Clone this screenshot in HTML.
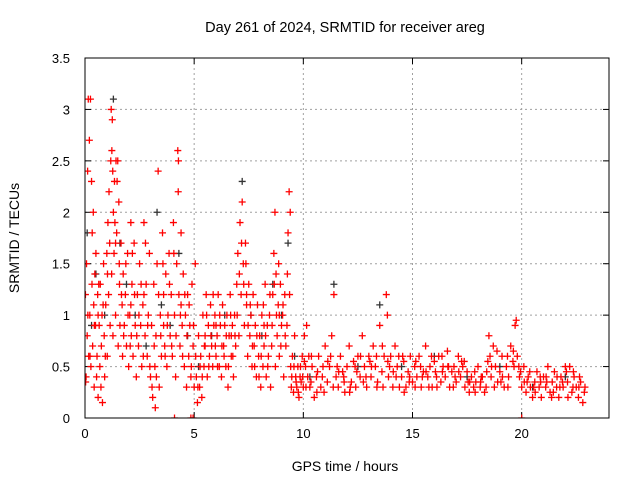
<!DOCTYPE html>
<html><head><meta charset="utf-8"><style>
html,body{margin:0;padding:0;background:#fff;}
svg{display:block;font-family:"Liberation Sans",sans-serif;}
</style></head><body>
<svg id="chart" width="640" height="480">
<defs><clipPath id="pc"><rect x="85" y="58" width="524" height="360"/></clipPath></defs>
<text x="345" y="32" font-size="14.5" text-anchor="middle">Day 261 of 2024, SRMTID for receiver areg</text>
<text x="345" y="471" font-size="14" text-anchor="middle">GPS time / hours</text>
<text transform="translate(19,238) rotate(-90)" font-size="14" text-anchor="middle">SRMTID / TECUs</text>
<g id="grid"></g><g id="ticks"></g><g id="black" clip-path="url(#pc)"></g><g id="red" clip-path="url(#pc)"></g>
<rect x="85" y="58" width="524" height="360" fill="none" stroke="#000" stroke-width="1"/>
</svg>
<script>
const xTicks=[0,5,10,15,20];
const yTicks=[0,0.5,1,1.5,2,2.5,3,3.5];
const yTickLabels=["0","0.5","1","1.5","2","2.5","3","3.5"];
const redT=[0.02,0.05,0.07,0.1,0.12,0.15,0.17,0.2,0.22,0.25,0.27,0.3,0.32,0.35,0.38,0.4,0.42,0.45,0.48,0.5,0.55,0.58,0.6,0.65,0.68,0.7,0.75,0.78,0.8,0.85,0.88,0.9,0.95,1.0,1.02,1.05,1.08,1.1,1.15,1.18,1.2,1.22,1.25,1.28,1.3,1.33,1.35,1.4,1.42,1.45,1.5,1.52,1.55,1.58,1.6,1.65,1.7,1.72,1.75,1.8,1.85,1.9,1.95,2.0,2.05,2.1,2.12,2.15,2.2,2.25,2.3,2.35,2.4,2.45,2.5,2.55,2.6,2.65,2.7,2.75,2.8,2.85,2.9,2.95,3.0,3.05,3.1,3.15,3.2,3.22,3.25,3.3,3.35,3.4,3.45,3.5,3.55,3.6,3.65,3.7,3.75,3.8,3.85,3.9,3.95,4.0,4.05,4.1,4.15,4.2,4.25,4.28,4.3,4.35,4.4,4.45,4.5,4.55,4.6,4.65,4.7,4.75,4.8,4.85,4.9,4.95,5.0,5.05,5.1,5.15,5.2,5.25,5.3,5.35,5.4,5.45,5.5,5.55,5.6,5.65,5.7,5.75,5.8,5.85,5.9,5.95,6.0,6.05,6.1,6.15,6.2,6.25,6.3,6.35,6.4,6.45,6.5,6.55,6.6,6.65,6.7,6.75,6.8,6.85,6.9,6.95,7.0,7.05,7.1,7.15,7.2,7.25,7.3,7.35,7.4,7.45,7.5,7.55,7.6,7.65,7.7,7.75,7.8,7.85,7.9,7.95,8.0,8.05,8.1,8.15,8.2,8.25,8.3,8.35,8.4,8.45,8.5,8.55,8.6,8.65,8.7,8.72,8.75,8.8,8.85,8.9,8.95,9.0,9.05,9.1,9.15,9.2,9.25,9.3,9.35,9.4,9.42,9.45,9.5,9.55,9.6,9.65,9.7,9.75,9.8,9.85,9.9,9.95,10.0,10.05,10.1,10.15,10.2,10.25,10.3,10.4,10.5,10.6,10.7,10.8,10.9,11.0,11.1,11.2,11.3,11.4,11.5,11.6,11.7,11.8,11.9,12.0,12.1,12.2,12.3,12.4,12.5,12.6,12.7,12.8,12.9,13.0,13.1,13.2,13.3,13.4,13.5,13.6,13.7,13.8,13.85,13.9,14.0,14.1,14.2,14.3,14.4,14.5,14.6,14.7,14.8,14.9,15.0,15.1,15.2,15.3,15.4,15.5,15.6,15.7,15.8,15.9,16.0,16.1,16.2,16.3,16.4,16.5,16.6,16.7,16.8,16.9,17.0,17.1,17.2,17.3,17.4,17.5,17.6,17.7,17.8,17.9,18.0,18.1,18.2,18.3,18.4,18.5,18.55,18.6,18.7,18.8,18.9,19.0,19.1,19.2,19.3,19.4,19.5,19.6,19.7,19.75,19.8,19.9,20.0,20.1,20.2,20.3,20.4,20.5,20.6,20.7,20.8,20.9,21.0,21.1,21.2,21.3,21.4,21.5,21.6,21.7,21.8,21.9,22.0,22.1,22.2,22.3,22.4,22.5,22.6,22.7,22.8,22.9,4.1,4.85,4.95,20.0];
const redV=[1.2,0.4,1.5,0.8,2.4,3.1,0.6,2.7,1.0,3.1,0.5,2.3,1.3,0.7,2.0,1.1,0.3,1.4,0.9,1.6,0.6,1.2,0.2,0.9,0.5,1.3,0.7,1.0,0.15,1.5,0.8,0.4,1.1,1.6,0.6,1.9,1.2,2.2,0.9,2.5,3.0,1.4,2.9,0.8,2.0,1.6,2.3,1.0,2.5,1.8,2.5,0.7,2.1,1.3,0.9,1.7,1.1,0.6,1.4,0.9,1.2,0.7,1.6,0.5,1.0,1.9,0.8,1.3,0.6,1.7,0.9,0.4,1.2,0.7,1.5,0.9,0.5,1.1,1.9,0.8,1.3,0.6,1.0,1.6,0.4,0.9,0.2,1.3,0.5,0.1,0.8,1.5,2.4,0.3,1.0,0.6,1.8,1.2,0.7,1.4,0.5,1.0,1.6,0.8,1.2,0.6,1.9,1.0,0.4,1.5,2.6,2.5,1.2,0.7,1.8,0.9,1.4,0.5,1.0,0.3,1.2,0.6,0.9,0.4,1.3,0.7,0.3,1.5,0.4,0.15,0.8,0.3,0.6,0.2,1.0,0.5,0.8,1.2,0.4,0.9,0.6,1.1,0.7,0.5,0.9,1.0,0.6,0.8,1.2,0.5,0.9,0.4,1.1,0.7,0.9,0.5,1.0,0.3,0.8,1.2,0.6,0.9,0.4,1.0,0.7,1.3,1.6,0.8,1.9,1.2,2.1,1.5,0.9,1.7,1.1,0.6,1.3,0.8,1.0,0.5,1.2,0.7,0.9,0.4,1.1,0.6,0.8,0.3,1.0,0.5,0.7,1.3,0.4,0.9,0.6,1.0,0.3,0.7,1.2,1.6,2.0,0.5,1.4,0.8,1.1,0.6,1.3,0.9,1.0,0.4,1.2,0.7,0.9,1.8,2.2,2.0,0.5,0.3,0.6,0.25,0.8,0.4,0.3,0.5,0.2,0.4,0.35,0.6,0.3,0.8,0.5,0.9,0.4,0.6,0.3,0.5,0.2,0.4,0.6,0.3,0.5,0.7,0.35,0.5,0.8,1.2,0.4,0.3,0.6,0.45,0.25,0.5,0.7,0.35,0.55,0.3,0.6,0.4,0.8,0.5,0.3,0.6,0.4,0.7,0.5,0.35,0.9,0.45,0.6,1.2,1.0,0.4,0.6,0.3,0.7,0.5,0.3,0.4,0.55,0.3,0.45,0.6,0.35,0.5,0.4,0.6,0.3,0.45,0.7,0.4,0.5,0.3,0.55,0.4,0.6,0.35,0.5,0.4,0.65,0.3,0.45,0.5,0.35,0.6,0.4,0.5,0.3,0.45,0.25,0.4,0.3,0.35,0.5,0.3,0.4,0.25,0.45,0.8,0.6,0.4,0.7,0.5,0.35,0.45,0.6,0.3,0.5,0.4,0.7,0.55,0.9,0.95,0.6,0.4,0.3,0.5,0.25,0.4,0.3,0.2,0.35,0.45,0.3,0.2,0.4,0.3,0.5,0.25,0.35,0.45,0.3,0.2,0.4,0.3,0.5,0.35,0.5,0.25,0.4,0.3,0.2,0.35,0.15,0.3,0,0,0,0];
const redT2=[10.05,10.35,10.65,10.95,11.25,11.55,11.85,12.15,12.45,12.75,13.05,13.35,13.65,13.95,14.25,14.55,14.85,15.15,15.45,15.75,16.05,16.35,16.65,16.95,17.25,17.55,17.85,18.15,18.45,18.75,19.05,19.35,19.65,19.95,20.25,20.55,20.85,21.15,21.45,21.75,22.05,22.35,22.65,0.6,1.4,2.1,2.7,3.6,4.4,5.5,6.0,6.7,7.4,8.2,8.9];
const redV2=[0.55,0.35,0.45,0.25,0.6,0.5,0.4,0.3,0.45,0.35,0.55,0.6,0.3,0.5,0.4,0.6,0.35,0.55,0.4,0.3,0.45,0.6,0.5,0.4,0.55,0.35,0.45,0.4,0.55,0.3,0.35,0.6,0.5,0.45,0.35,0.3,0.4,0.35,0.25,0.3,0.45,0.3,0.4,1.0,1.7,1.1,1.2,0.9,1.1,0.7,0.9,0.8,1.2,0.9,1.0];
const redT3=[0.03,0.13,0.23,0.33,0.43,0.53,0.63,0.73,0.83,0.93,1.03,1.13,1.23,1.27,1.37,1.47,1.57,1.67,1.77,1.87,1.97,2.07,2.17,2.27,2.37,2.47,2.57,2.67,2.77,2.87,2.97,3.07,3.17,3.27,3.37,3.47,3.57,3.67,3.77,3.87,3.97,4.07,4.17,4.27,4.37,4.47,4.57,4.67,4.77,4.87,4.97,5.07,5.17,5.27,5.37,5.47,5.57,5.67,5.77,5.87,5.97,6.07,6.17,6.27,6.37,6.47,6.57,6.67,6.77,6.87,6.97,7.07,7.17,7.27,7.37,7.47,7.57,7.67,7.77,7.87,7.97,8.07,8.17,8.27,8.37,8.47,8.57,8.67,8.77,8.87,8.97,9.07,9.17,9.27,9.37,9.47,9.57,9.67,9.77,9.87,9.97,10.12,10.37,10.62,10.87,11.12,11.37,11.62,11.87,12.12,12.37,12.62,12.87,13.12,13.37,13.62,13.87,14.12,14.37,14.62,14.87,15.12,15.37,15.62,15.87,16.12,16.37,16.62,16.87,17.12,17.37,17.62,17.87,18.12,18.37,18.62,18.87,19.12,19.37,19.62,19.87,20.12,20.37,20.62,20.87,21.12,21.37,21.62,21.87,22.12,22.37,22.62,22.87];
const redV3=[0.35,1.0,0.6,1.8,0.9,0.4,1.3,0.3,1.1,0.6,1.4,1.7,2.6,2.4,1.9,2.3,1.5,1.2,0.8,1.5,1.0,0.7,1.6,1.2,0.8,1.0,1.3,0.6,1.7,0.9,0.5,0.3,0.7,0.4,1.2,0.8,1.5,0.6,0.9,1.3,0.7,1.6,0.8,2.2,1.0,0.6,1.2,0.8,1.1,0.5,0.9,0.6,0.3,0.5,0.4,0.7,1.0,0.5,0.8,1.2,0.7,0.5,1.0,0.7,0.6,0.8,0.5,1.0,0.6,0.8,1.0,1.4,1.7,1.3,1.5,0.9,1.1,0.7,0.5,0.8,0.4,0.6,1.1,0.8,0.5,1.2,0.9,1.3,1.0,1.5,0.7,1.1,0.8,1.4,1.2,0.4,0.5,0.35,0.25,0.5,0.4,0.3,0.6,0.25,0.4,0.55,0.3,0.45,0.35,0.25,0.5,0.6,0.4,0.5,0.3,0.7,0.55,0.45,0.6,0.25,0.4,0.3,0.5,0.45,0.6,0.3,0.45,0.5,0.3,0.45,0.55,0.35,0.25,0.35,0.3,0.5,0.65,0.4,0.3,0.65,0.5,0.35,0.45,0.25,0.35,0.4,0.2,0.4,0.35,0.2,0.45,0.3,0.25];
const blackT=[0.1,0.3,0.5,0.9,1.3,1.6,1.9,2.3,2.8,3.3,3.5,3.9,4.3,4.7,5.2,5.8,6.4,7.2,7.6,8.1,8.6,9.0,9.3,9.6,10.3,11.4,12.5,13.5,14.5,16.0,17.5,19.0,20.5,22.0];
const blackV=[1.8,0.9,1.4,1.0,3.1,1.7,1.3,1.0,0.7,2.0,1.1,0.9,1.6,0.8,0.5,0.8,1.0,2.3,1.0,0.8,1.3,1.0,1.7,0.6,0.4,1.3,0.5,1.1,0.5,0.6,0.4,0.5,0.3,0.4];
const X0=85,X1=609,Y0=418,Y1=58,XMAX=24,YMAX=3.5;
function sx(t){return X0+(X1-X0)*t/XMAX;}
function sy(v){return Y0-(Y0-Y1)*v/YMAX;}
const NS="http://www.w3.org/2000/svg";
function mk(tag,attrs,parent){const e=document.createElementNS(NS,tag);for(const k in attrs)e.setAttribute(k,attrs[k]);parent.appendChild(e);return e;}
const grid=document.getElementById('grid'),ticks=document.getElementById('ticks');
xTicks.forEach(t=>{const x=sx(t);
 if(t>0){const g=mk('line',{x1:x,x2:x,y1:Y1,y2:Y0,stroke:'#a0a0a0','stroke-dasharray':'2,3'},grid);
 
 }
 mk('line',{x1:x,x2:x,y1:Y0,y2:Y0-6,stroke:'#000'},ticks);
 mk('line',{x1:x,x2:x,y1:Y1,y2:Y1+6,stroke:'#000'},ticks);
 const l=mk('text',{x:x,y:Y0+20,'font-size':13,'text-anchor':'middle'},ticks);l.textContent=t;
 
 
});
yTicks.forEach((v,i)=>{const y=sy(v);
 if(v>0&&v<YMAX){const g=mk('line',{x1:X0,x2:X1,y1:y,y2:y,stroke:'#a0a0a0','stroke-dasharray':'2,3'},grid);
 
 }
 mk('line',{x1:X0,x2:X0+6,y1:y,y2:y,stroke:'#000'},ticks);
 mk('line',{x1:X1,x2:X1-6,y1:y,y2:y,stroke:'#000'},ticks);
 const l=mk('text',{x:X0-15,y:y+5,'font-size':13,'text-anchor':'end'},ticks);l.textContent=yTickLabels[i];
 
 
});
function plus(g,t,v,col){const x=sx(t),y=sy(v);
 const p=mk('path',{d:`M${x-3.5},${y}H${x+3.5}M${x},${y-3.5}V${y+3.5}`,stroke:col,'stroke-width':1.3,fill:'none'},g);
 
 }
const bg=document.getElementById('black'),rg=document.getElementById('red');
blackT.forEach((t,i)=>plus(bg,t,blackV[i],'#333'));
redT.forEach((t,i)=>plus(rg,t,redV[i],'#ff0000'));
redT2.forEach((t,i)=>plus(rg,t,redV2[i],'#ff0000'));
redT3.forEach((t,i)=>plus(rg,t,redV3[i],'#ff0000'));
</script>
</body></html>
